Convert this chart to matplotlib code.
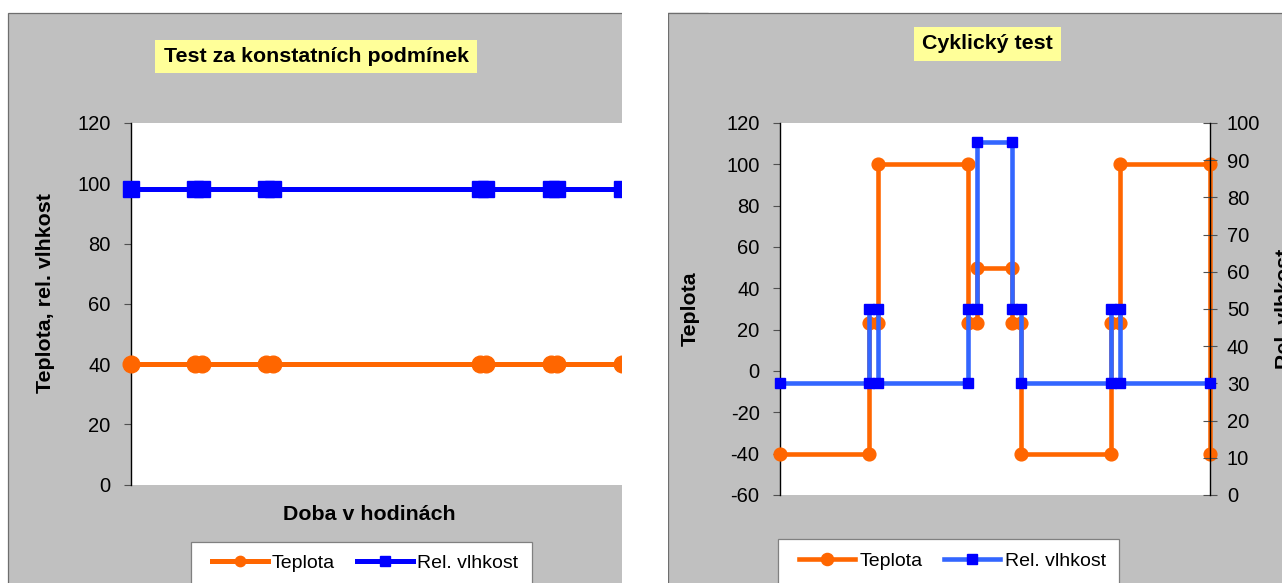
import matplotlib
matplotlib.use("Agg")
import matplotlib.pyplot as plt
from matplotlib.patches import Rectangle

plt.rcParams['font.family'] = ['Liberation Sans', 'DejaVu Sans']
plt.rcParams['axes.unicode_minus'] = False

# ---------------- data ----------------
# Left chart: constant conditions
const_hours = [0, 10, 11, 21, 22, 54, 55, 65, 66, 76]
const_teplota = [40, 40, 40, 40, 40, 40, 40, 40, 40, 40]
const_vlhkost = [98, 98, 98, 98, 98, 98, 98, 98, 98, 98]

# Right chart: cyclic test
cyc_hours_t = [0, 10, 10, 11, 11, 21, 21, 22, 22, 26, 26, 27, 27, 37, 37, 38, 38, 48, 48]
cyc_teplota = [-40, -40, 23, 23, 100, 100, 23, 23, 50, 50, 23, 23, -40, -40, 23, 23, 100, 100, -40]
cyc_hours_h = [0, 10, 10, 11, 11, 21, 21, 22, 22, 26, 26, 27, 27, 37, 37, 38, 38, 48]
cyc_vlhkost = [30, 30, 50, 50, 30, 30, 50, 50, 95, 95, 50, 50, 30, 30, 50, 50, 30, 30]

title_left = "Test za konstatních podmínek"
title_right = "Cyklický test"
xlabel_left = "Doba v hodinách"
ylabel_left = "Teplota, rel. vlhkost"
ylabel_right_t = "Teplota"
ylabel_right_h = "Rel. vlhkost"
label_t = "Teplota"
label_h = "Rel. vlhkost"

left_yticks = [0, 20, 40, 60, 80, 100, 120]
right_yticks_t = [-60, -40, -20, 0, 20, 40, 60, 80, 100, 120]
right_yticks_h = [0, 10, 20, 30, 40, 50, 60, 70, 80, 90, 100]

# ---------------- styling / layout ----------------
W, H = 1282, 583
DPI = 100
ORANGE = '#FF6600'
BLUE = '#0000FF'
BLUE_LINE = '#3366FF'
GRAY = '#C0C0C0'
YELLOW = '#FFFF99'
FS = 14          # legend
FS_TICK = 14.5   # tick labels
FS_BOLD = 15.4   # titles and axis titles


def fx(x):
    return x / W


def fy(y):
    return 1 - y / H


def axrect(l, r, t, b):
    return [fx(l), fy(b), (r - l) / W, (b - t) / H]


fig = plt.figure(figsize=(W / DPI, H / DPI), dpi=DPI, facecolor='white')

# panel backgrounds
for x0 in (8.3, 668.3):
    fig.patches.append(Rectangle((fx(x0), fy(620)), fx(700), (620 - 13.3) / H,
                                 transform=fig.transFigure, facecolor=GRAY,
                                 edgecolor='#6e6e6e', linewidth=0.9, zorder=-5))

# ---------------- left chart ----------------
ax1 = fig.add_axes(axrect(130.7, 621.7, 123, 484.5))
ax1.set_facecolor('white')
ax1.plot(const_hours, const_teplota, color=ORANGE, lw=3.6, marker='o', ms=12,
         mfc=ORANGE, mec=ORANGE, clip_on=False, zorder=3, label=label_t)
ax1.plot(const_hours, const_vlhkost, color=BLUE, lw=3.6, marker='s', ms=12,
         mfc=BLUE, mec=BLUE, clip_on=False, zorder=4, label=label_h)
ax1.set_xlim(0, 76)
ax1.set_ylim(0, 120)
ax1.set_yticks(left_yticks)
ax1.set_xticks([])
for s in ('top', 'right', 'bottom'):
    ax1.spines[s].set_visible(False)
ax1.spines['left'].set_color('black')
ax1.spines['left'].set_linewidth(1)
ax1.tick_params(axis='y', direction='out', length=4.8, width=0.8, color='#505050',
                pad=9.6, labelsize=FS_TICK, labelcolor='black')
ax1.set_ylabel(ylabel_left, fontsize=FS_BOLD, fontweight='bold')
ax1.yaxis.set_label_coords((46 - 130.7) / 491, 0.53)
ax1.yaxis.label.set_rotation_mode('anchor')
ax1.yaxis.label.set_va('center')
ax1.yaxis.label.set_ha('center')
ax1.set_xlabel(xlabel_left, fontsize=FS_BOLD, fontweight='bold')
ax1.xaxis.set_label_coords((369 - 130.7) / 491, (484.5 - 514) / 361.5)
ax1.xaxis.label.set_va('center')

# cover to emulate the cropped right side of the left chart
fig.patches.append(Rectangle((fx(621.7), -0.05), (667.6 - 621.7) / W, 1.1,
                             transform=fig.transFigure, facecolor='white',
                             edgecolor='none', zorder=2))

# ---------------- right chart ----------------
ax2 = fig.add_axes(axrect(779.5, 1209.5, 123, 495))
ax2.set_facecolor('white')
ax2.plot(cyc_hours_t, cyc_teplota, color=ORANGE, lw=3.3, marker='o', ms=9.2,
         mfc=ORANGE, mec=ORANGE, clip_on=False, zorder=3, label=label_t)
ax2.set_xlim(0, 48)
ax2.set_ylim(-60, 120)
ax2.set_yticks(right_yticks_t)
ax2.set_xticks([])
for s in ('top', 'right', 'bottom'):
    ax2.spines[s].set_visible(False)
ax2.spines['left'].set_color('black')
ax2.spines['left'].set_linewidth(1)
ax2.tick_params(axis='y', direction='out', length=4.8, width=0.8, color='#505050',
                pad=9.6, labelsize=FS_TICK, labelcolor='black')
ax2.set_ylabel(ylabel_right_t, fontsize=FS_BOLD, fontweight='bold')
ax2.yaxis.set_label_coords((690 - 779.5) / 430, 0.5)
ax2.yaxis.label.set_rotation_mode('anchor')
ax2.yaxis.label.set_va('center')
ax2.yaxis.label.set_ha('center')

ax2r = ax2.twinx()
ax2r.plot(cyc_hours_h, cyc_vlhkost, color=BLUE_LINE, lw=3.3, marker='s', ms=7.8,
          mfc=BLUE, mec=BLUE, clip_on=False, zorder=4, label=label_h)
ax2r.set_ylim(0, 100)
ax2r.set_yticks(right_yticks_h)
for s in ('top', 'left', 'bottom'):
    ax2r.spines[s].set_visible(False)
ax2r.spines['right'].set_color('black')
ax2r.spines['right'].set_linewidth(1)
ax2r.tick_params(axis='y', direction='inout', length=9.4, width=0.8, color='#505050',
                 pad=7.8, labelsize=FS_TICK, labelcolor='black')
ax2r.set_ylabel(ylabel_right_h, fontsize=FS_BOLD, fontweight='bold')
ax2r.yaxis.set_label_coords((1285 - 779.5) / 430, 0.5)
ax2r.yaxis.label.set_rotation(90)
ax2r.yaxis.label.set_rotation_mode('anchor')
ax2r.yaxis.label.set_va('center')
ax2r.yaxis.label.set_ha('center')

# ---------------- titles ----------------
for (l, r, t, b, txt) in ((155, 477, 40, 72.7, title_left),
                          (914, 1061, 27, 60.5, title_right)):
    fig.patches.append(Rectangle((fx(l), fy(b)), (r - l) / W, (b - t) / H,
                                 transform=fig.transFigure, facecolor=YELLOW,
                                 edgecolor='none', zorder=3))
    fig.text(fx((l + r) / 2), fy((t + b) / 2), txt, fontsize=FS_BOLD, fontweight='bold',
             ha='center', va='center', zorder=6)

# ---------------- legends ----------------
legend_specs = (
    (ax1, [ax1.lines[0], ax1.lines[1]], 190.7, 531.7, 541.7, 211.7, 563.3, 0.62),
    (ax2, [ax2.lines[0], ax2r.lines[0]], 777.7, 1119, 539, 799.3, 561, 0.95),
)
for ax, handles, bl, br, bt, hx, hy, mscale in legend_specs:
    fig.patches.append(Rectangle((fx(bl), fy(620)), (br - bl) / W, (620 - bt) / H,
                                 transform=fig.transFigure, facecolor='white',
                                 edgecolor='#808080', linewidth=0.9, zorder=4))
    leg = fig.legend(handles=handles, labels=[h.get_label() for h in handles],
                     loc='center left', bbox_to_anchor=(fx(hx), fy(hy)),
                     bbox_transform=fig.transFigure, ncol=2, frameon=False,
                     fontsize=FS, handlelength=2.87, handletextpad=0.23,
                     columnspacing=1.12, borderpad=0, borderaxespad=0,
                     numpoints=1, markerscale=mscale)
    leg.set_zorder(6)

fig.savefig('out.png', dpi=DPI, facecolor='white')
